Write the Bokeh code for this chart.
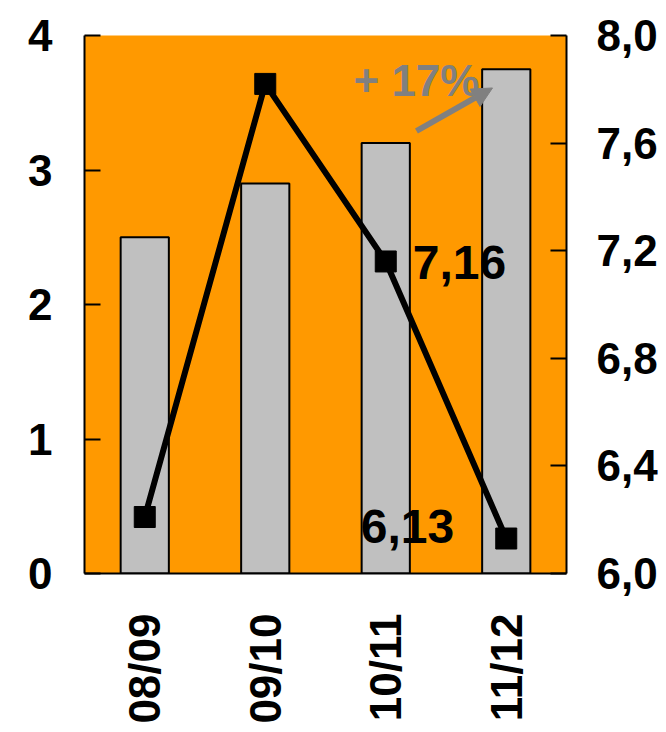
import math
from bokeh.plotting import figure
from bokeh.models import (FactorRange, Range1d, LinearAxis, FixedTicker,
                          CustomJSTickFormatter, Arrow, NormalHead, Label)
from bokeh.core.properties import value
from bokeh.embed import file_html
from bokeh.resources import INLINE

# ---- data ----
seasons = ["08/09", "09/10", "10/11", "11/12"]
bar_values = [2.5, 2.9, 3.2, 3.75]          # left axis
line_values = [6.21, 7.82, 7.16, 6.13]      # right axis
left_ticks = [0, 1, 2, 3, 4]
right_ticks = [6.0, 6.4, 6.8, 7.2, 7.6, 8.0]
growth_label = "+ 17%"
labelled_points = ["10/11", "11/12"]

FONT = "Liberation Sans"
ORANGE = "#FF9900"
BAR_GRAY = "#C0C0C0"
TEXT_GRAY = "#808080"

p = figure(x_range=FactorRange(*seasons), y_range=Range1d(0, 4),
           frame_width=482, frame_height=538,
           min_border_left=84, min_border_right=100,
           min_border_top=35, min_border_bottom=159,
           output_backend="svg", toolbar_location=None,
           background_fill_color=ORANGE, border_fill_color="white",
           outline_line_color=None)
p.extra_y_ranges = {"right": Range1d(6.0, 8.0)}
p.xgrid.visible = False
p.ygrid.visible = False

def style_axis(ax, standoff):
    ax.axis_line_color = "black"
    ax.axis_line_width = 2
    ax.major_tick_line_color = "black"
    ax.major_tick_line_width = 2
    ax.major_tick_in = 16
    ax.major_tick_out = 0
    ax.minor_tick_line_color = None
    ax.major_label_text_font = FONT
    ax.major_label_text_font_style = "bold"
    ax.major_label_text_font_size = "44px"
    ax.major_label_text_color = "black"
    ax.major_label_standoff = standoff

# left axis
yl = p.yaxis[0]
yl.ticker = FixedTicker(ticks=left_ticks)
style_axis(yl, 32)

# right axis
yr = LinearAxis(y_range_name="right", ticker=FixedTicker(ticks=right_ticks),
                formatter=CustomJSTickFormatter(code="return tick.toFixed(1).replace('.', ',');"))
style_axis(yr, 30)
p.add_layout(yr, "right")

# bottom axis
xb = p.xaxis[0]
style_axis(xb, 40)
xb.major_tick_in = 0
xb.major_tick_line_color = None
xb.major_label_orientation = math.pi / 2

# bars
p.vbar(x=seasons, top=bar_values, width=0.4, fill_color=BAR_GRAY,
       line_color="black", line_width=2)

# line + markers
p.line(x=seasons, y=line_values, y_range_name="right", line_color="black", line_width=6)
p.scatter(x=seasons, y=line_values, y_range_name="right", marker="square",
          size=21, fill_color="black", line_color="black")

def fmt(v):
    return f"{v:.2f}".replace(".", ",")

# value labels
i1 = seasons.index(labelled_points[0])
p.text(x=[labelled_points[0]], y=[line_values[i1]], y_range_name="right",
       text=[fmt(line_values[i1])], x_offset=27, y_offset=1,
       text_align="left", text_baseline="middle",
       text_font=value(FONT), text_font_style="bold", text_font_size="48px",
       text_color="black")
i2 = seasons.index(labelled_points[1])
p.text(x=[labelled_points[1]], y=[line_values[i2]], y_range_name="right",
       text=[fmt(line_values[i2])], x_offset=-52, y_offset=-12,
       text_align="right", text_baseline="middle",
       text_font=value(FONT), text_font_style="bold", text_font_size="48px",
       text_color="black")

# growth arrow and label (positions relative to categories)
xa = seasons.index("10/11") + 0.5
xb2 = seasons.index("11/12") + 0.5
p.add_layout(Arrow(end=NormalHead(size=20, fill_color=TEXT_GRAY, line_color=TEXT_GRAY),
                   x_start=xa + 0.255, y_start=3.29, x_end=xb2 - 0.114, y_end=3.61,
                   line_color=TEXT_GRAY, line_width=6))
p.add_layout(Label(x=xa - 0.268, y=3.665, text=growth_label,
                   text_font=FONT, text_font_style="bold", text_font_size="44px",
                   text_color=TEXT_GRAY, text_align="left", text_baseline="alphabetic"))

open("out.html", "w").write(file_html(p, INLINE))
